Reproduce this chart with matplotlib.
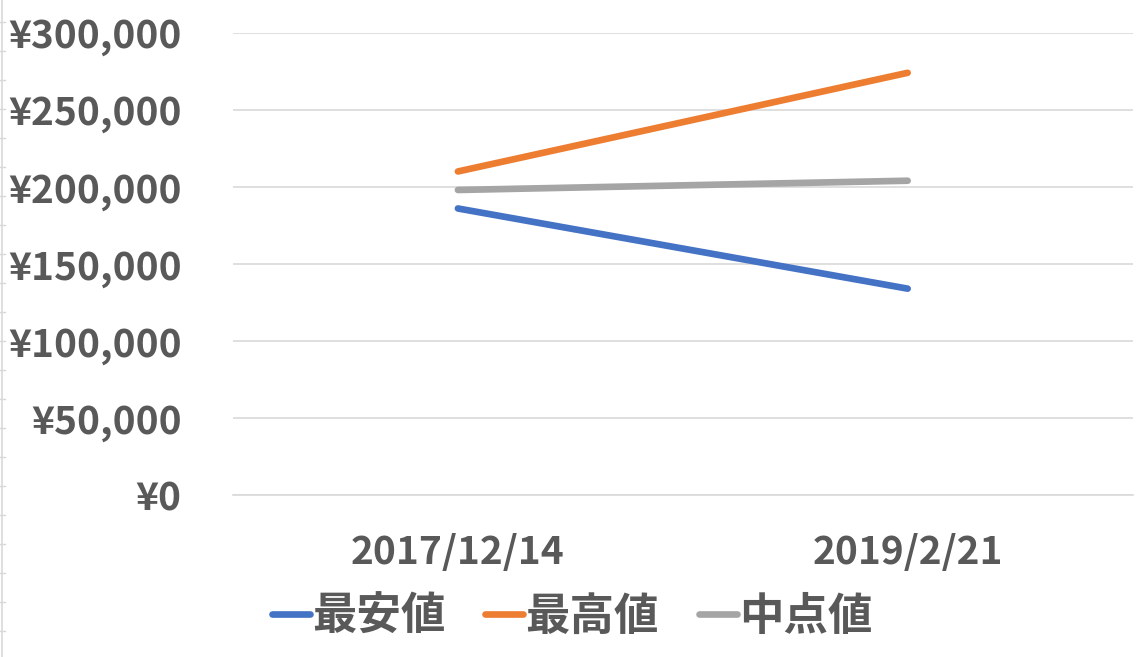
import matplotlib.pyplot as plt
from matplotlib.lines import Line2D
from matplotlib.ticker import FuncFormatter

plt.rcParams['font.family'] = ['Noto Sans CJK JP', 'DejaVu Sans']
plt.rcParams['font.weight'] = 'bold'

dates = ['2017/12/14', '2019/2/21']
low_prices = [186000, 134000]
high_prices = [210000, 274000]
mid_prices = [198000, 204000]
series_names = ['最安値', '最高値', '中点値']

text_color = '#595959'
grid_color = '#D9D9D9'

fig = plt.figure(figsize=(11.44, 6.57), dpi=100)
ax = fig.add_axes([0.2037, 0.2462, 0.7863, 0.7040])

x = list(range(len(dates)))
lines = []
for vals, color, name in [(low_prices, '#4472C4', series_names[0]),
                          (high_prices, '#ED7D31', series_names[1]),
                          (mid_prices, '#A5A5A5', series_names[2])]:
    ln, = ax.plot(x, vals, color=color, lw=4.8, solid_capstyle='round', label=name, zorder=3)
    lines.append(ln)

ax.set_xlim(-0.5, 1.5)
ax.set_ylim(0, 300000)
ax.set_yticks(range(0, 300001, 50000))
ax.yaxis.set_major_formatter(FuncFormatter(lambda v, p: f'¥{int(v):,}'))
ax.set_xticks(x)
ax.set_xticklabels(dates)
ax.grid(axis='y', color=grid_color, lw=1.2)
ax.set_axisbelow(True)
for side in ['top', 'right', 'left']:
    ax.spines[side].set_visible(False)
ax.spines['bottom'].set_color(grid_color)
ax.spines['bottom'].set_linewidth(1.2)
ax.tick_params(length=0, colors=text_color, labelsize=28)
ax.tick_params(axis='y', pad=37)
ax.tick_params(axis='x', pad=27)

leg = fig.legend(handles=lines, loc='center', bbox_to_anchor=(0.5, 1 - 617 / 657),
                 ncol=3, frameon=False, handlelength=0.85, handletextpad=0.05,
                 columnspacing=0.9, prop={'size': 32, 'weight': 'bold'})
for t in leg.get_texts():
    t.set_color(text_color)

# spreadsheet row border at the left edge
fig.add_artist(Line2D([1.5 / 1144, 1.5 / 1144], [0, 1], color=grid_color, lw=1.2))
for k in range(23):
    yy = 1 - (22 + 29 * k) / 657
    fig.add_artist(Line2D([0, 5 / 1144], [yy, yy], color=grid_color, lw=1))

fig.savefig('out.png', dpi=100, facecolor='white')
